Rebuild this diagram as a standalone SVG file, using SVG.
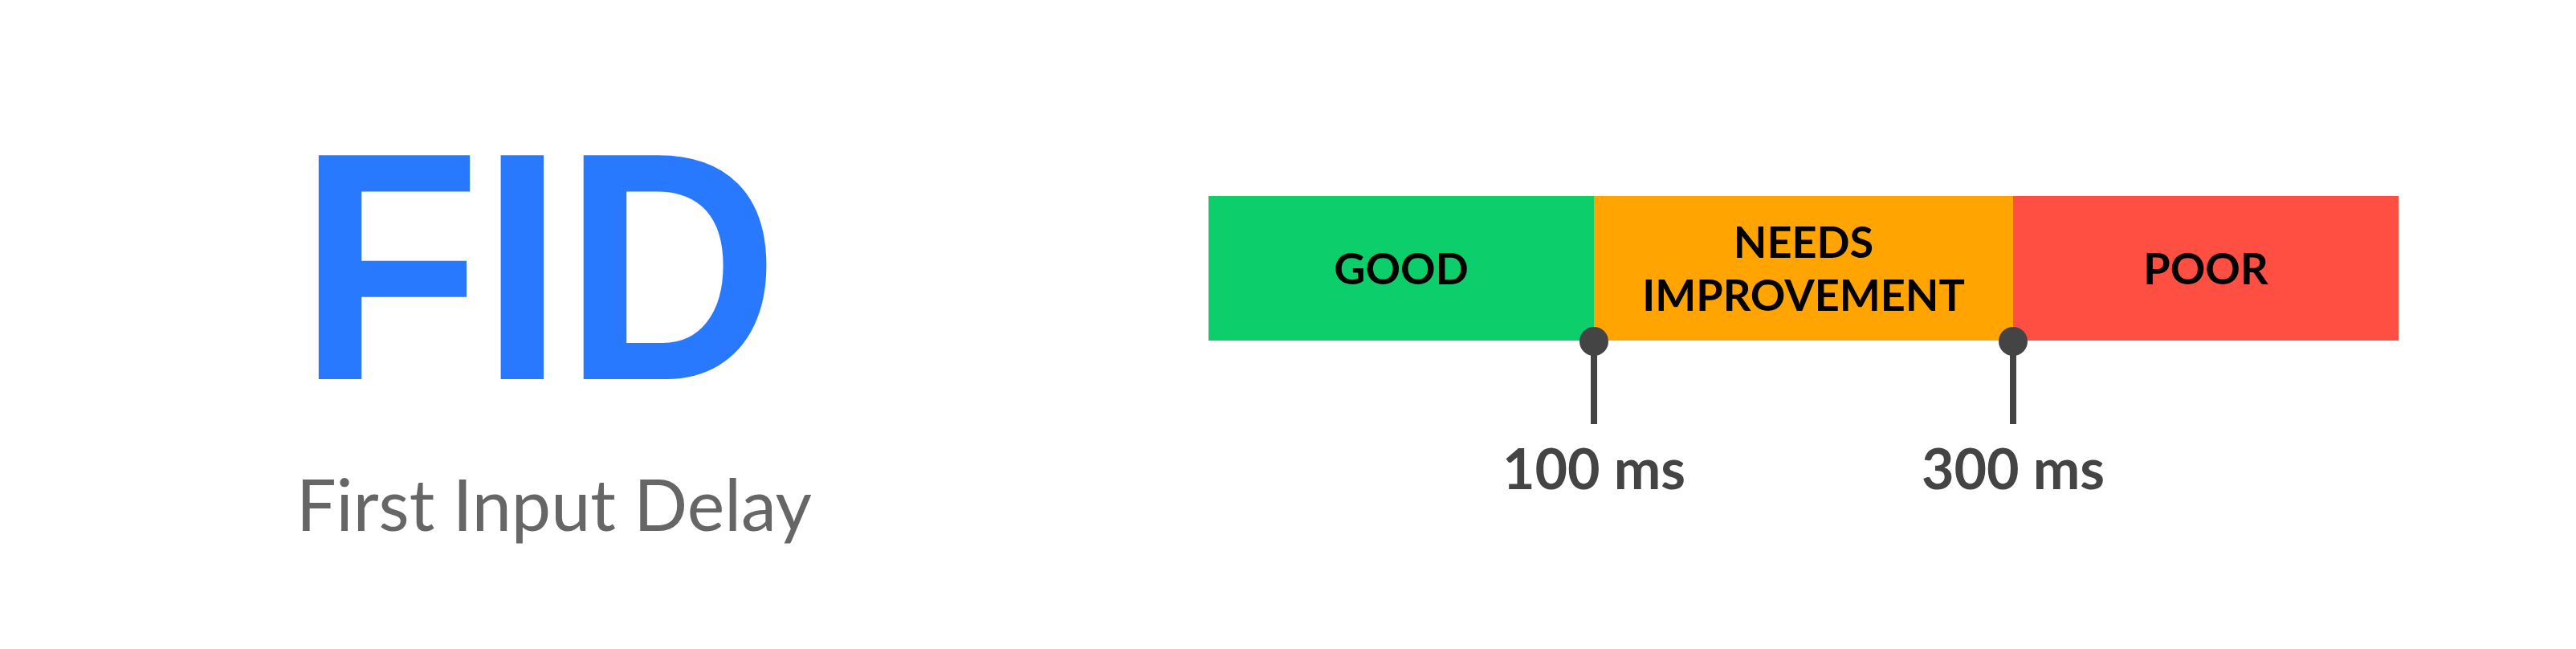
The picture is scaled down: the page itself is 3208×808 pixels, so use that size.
<svg xmlns="http://www.w3.org/2000/svg" width="3208" height="808" viewBox="0 0 3208 808">
<style>
.lbl{font-family:"Lato","Liberation Sans",sans-serif;font-weight:bold;font-size:54px;fill:#000;text-anchor:middle}
.ms{font-family:"Lato","Liberation Sans",sans-serif;font-weight:bold;font-size:70px;fill:#444;text-anchor:middle}
</style>
<rect width="3208" height="808" fill="#fff"/>
<g id="title">
<text x="372" y="472" font-family="Liberation Sans, sans-serif" font-weight="bold" font-size="405" fill="#2979FF" textLength="598" lengthAdjust="spacingAndGlyphs">FID</text>
<text x="369" y="661" font-family="Lato, Liberation Sans, sans-serif" font-size="90" fill="#666" textLength="642" lengthAdjust="spacingAndGlyphs">First Input Delay</text>
</g>
<g id="good"><rect x="1505" y="244" width="480" height="180" fill="#0CCE6B"/><text class="lbl" x="1745" y="354">GOOD</text></g>
<g id="needs"><rect x="1985" y="244" width="522" height="180" fill="#FFA400"/><text class="lbl" x="2246" y="321">NEEDS</text><text class="lbl" x="2246" y="387">IMPROVEMENT</text></g>
<g id="poor"><rect x="2507" y="244" width="480" height="180" fill="#FF4E42"/><text class="lbl" x="2747" y="354">POOR</text></g>
<g id="connectors" fill="#444" stroke="#444">
<line x1="1985" y1="425" x2="1985" y2="528" stroke-width="8"/><circle cx="1985" cy="425" r="18" stroke="none"/>
<line x1="2507" y1="425" x2="2507" y2="528" stroke-width="8"/><circle cx="2507" cy="425" r="18" stroke="none"/>
</g>
<g id="ticks"><text class="ms" x="1985" y="609">100 ms</text><text class="ms" x="2507" y="609">300 ms</text></g>
</svg>
